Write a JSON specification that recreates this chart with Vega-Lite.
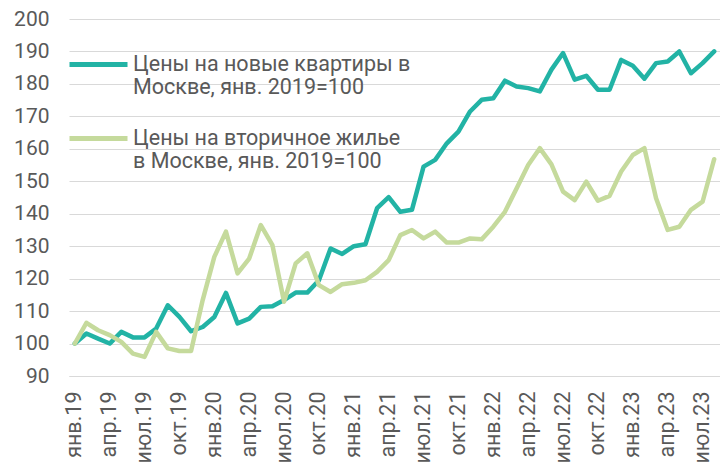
{
  "$schema": "https://vega.github.io/schema/vega-lite/v6.json",
  "width": 651,
  "height": 357,
  "autosize": {"type": "none"},
  "padding": {"left": 69, "top": 19, "right": 0, "bottom": 87},
  "background": "white",
  "config": {
    "view": {"stroke": null},
    "font": "Roboto"
  },
  "data": {
    "values": [
      {"m": "янв.19", "new": 100, "sec": 100},
      {"m": "фев.19", "new": 103.1, "sec": 106.4},
      {"m": "мар.19", "new": 101.5, "sec": 104.1},
      {"m": "апр.19", "new": 100, "sec": 102.6},
      {"m": "май.19", "new": 103.6, "sec": 100.5},
      {"m": "июн.19", "new": 101.9, "sec": 96.9},
      {"m": "июл.19", "new": 101.9, "sec": 95.9},
      {"m": "авг.19", "new": 104.6, "sec": 103.6},
      {"m": "сен.19", "new": 111.8, "sec": 98.5},
      {"m": "окт.19", "new": 108.2, "sec": 97.7},
      {"m": "ноя.19", "new": 103.8, "sec": 97.7},
      {"m": "дек.19", "new": 105.1, "sec": 113.4},
      {"m": "янв.20", "new": 108.2, "sec": 126.7},
      {"m": "фев.20", "new": 115.6, "sec": 134.5},
      {"m": "мар.20", "new": 106.2, "sec": 121.6},
      {"m": "апр.20", "new": 107.7, "sec": 126.2},
      {"m": "май.20", "new": 111.3, "sec": 136.5},
      {"m": "июн.20", "new": 111.5, "sec": 130.3},
      {"m": "июл.20", "new": 113.4, "sec": 112.9},
      {"m": "авг.20", "new": 115.7, "sec": 124.7},
      {"m": "сен.20", "new": 115.7, "sec": 127.8},
      {"m": "окт.20", "new": 119.5, "sec": 118},
      {"m": "ноя.20", "new": 129.3, "sec": 115.9},
      {"m": "дек.20", "new": 127.6, "sec": 118.3},
      {"m": "янв.21", "new": 130, "sec": 118.7},
      {"m": "фев.21", "new": 130.6, "sec": 119.5},
      {"m": "мар.21", "new": 141.7, "sec": 122.1},
      {"m": "апр.21", "new": 145.1, "sec": 125.7},
      {"m": "май.21", "new": 140.6, "sec": 133.4},
      {"m": "июн.21", "new": 141.2, "sec": 135},
      {"m": "июл.21", "new": 154.5, "sec": 132.4},
      {"m": "авг.21", "new": 156.6, "sec": 134.5},
      {"m": "сен.21", "new": 161.7, "sec": 131.1},
      {"m": "окт.21", "new": 165.3, "sec": 131.1},
      {"m": "ноя.21", "new": 171.5, "sec": 132.4},
      {"m": "дек.21", "new": 175.1, "sec": 132.1},
      {"m": "янв.22", "new": 175.6, "sec": 136},
      {"m": "фев.22", "new": 181, "sec": 140.6},
      {"m": "мар.22", "new": 179.2, "sec": 147.8},
      {"m": "апр.22", "new": 178.7, "sec": 155},
      {"m": "май.22", "new": 177.7, "sec": 160.2},
      {"m": "июн.22", "new": 184.4, "sec": 155.2},
      {"m": "июл.22", "new": 189.5, "sec": 146.8},
      {"m": "авг.22", "new": 181.3, "sec": 144.2},
      {"m": "сен.22", "new": 182.5, "sec": 149.9},
      {"m": "окт.22", "new": 178.2, "sec": 144},
      {"m": "ноя.22", "new": 178.2, "sec": 145.5},
      {"m": "дек.22", "new": 187.4, "sec": 153},
      {"m": "янв.23", "new": 185.6, "sec": 158.1},
      {"m": "фев.23", "new": 181.6, "sec": 160.2},
      {"m": "мар.23", "new": 186.4, "sec": 144.8},
      {"m": "апр.23", "new": 186.9, "sec": 135},
      {"m": "май.23", "new": 190, "sec": 136},
      {"m": "июн.23", "new": 183.3, "sec": 141.2},
      {"m": "июл.23", "new": 186.4, "sec": 143.7},
      {"m": "авг.23", "new": 190, "sec": 156.8}
    ]
  },
  "transform": [{"fold": ["new", "sec"], "as": ["s", "v"]}],
  "mark": {"type": "line", "strokeWidth": 4.5, "strokeJoin": "round", "strokeCap": "round"},
  "encoding": {
    "x": {
      "field": "m",
      "type": "ordinal",
      "sort": null,
      "scale": {"type": "point", "padding": 0.5},
      "axis": {
        "title": null,
        "values": ["янв.19","апр.19","июл.19","окт.19","янв.20","апр.20","июл.20","окт.20","янв.21","апр.21","июл.21","окт.21","янв.22","апр.22","июл.22","окт.22","янв.23","апр.23","июл.23"],
        "labelAngle": 270,
        "labelAlign": "right",
        "labelBaseline": "middle",
        "labelPadding": 15,
        "labelFontSize": 21.5,
        "labelColor": "#595959",
        "ticks": false,
        "domain": true,
        "domainColor": "#d9d9d9",
        "domainWidth": 1,
        "grid": false
      }
    },
    "y": {
      "field": "v",
      "type": "quantitative",
      "scale": {"domain": [90, 200], "nice": false, "zero": false},
      "axis": {
        "title": null,
        "values": [90,100,110,120,130,140,150,160,170,180,190,200],
        "labelFontSize": 21,
        "labelColor": "#595959",
        "labelPadding": 20,
        "ticks": false,
        "domain": false,
        "grid": true,
        "gridColor": "#d9d9d9",
        "gridWidth": 1
      }
    },
    "color": {
      "field": "s",
      "type": "nominal",
      "scale": {"domain": ["new", "sec"], "range": ["#22b3a5", "#c5da9c"]},
      "legend": {
        "title": null,
        "orient": "none",
        "legendX": -2,
        "legendY": 14,
        "direction": "vertical",
        "symbolType": "stroke",
        "symbolSize": 3364,
        "symbolStrokeWidth": 5,
        "labelFontSize": 21.5,
        "labelLineHeight": 28.5,
        "labelColor": "#595959",
        "labelLimit": 400,
        "labelOffset": 3,
        "rowPadding": 8,
        "labelExpr": "datum.label == 'new' ? ['Цены на новые квартиры в', 'Москве, янв. 2019=100'] : ['Цены на вторичное жилье', 'в Москве, янв. 2019=100']"
      }
    }
  }
}
